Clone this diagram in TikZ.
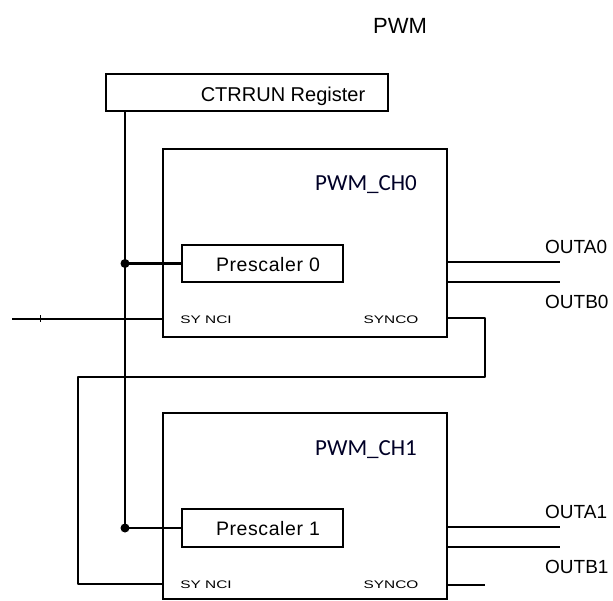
\documentclass[tikz,border=0pt]{standalone}
\usepackage{fontspec}
\setmainfont{Liberation Sans}
\newfontfamily\chfont{Carlito}
\newfontfamily\wideFont[LetterSpace=3]{Liberation Sans}
\begin{document}
\begin{tikzpicture}[x=1pt,y=-1pt,
  wire/.style={line width=2.4pt},
  blk/.style={draw,line width=2.4pt,inner sep=0pt},
  lbl/.style={inner sep=0pt,font=\fontsize{19}{22}\selectfont},
  prelbl/.style={inner sep=0pt,font=\wideFont\fontsize{19.5}{22}\selectfont},
  chlbl/.style={inner sep=0pt,font=\chfont\fontsize{23}{26}\selectfont,text=black!85!blue},
  sig/.style={inner sep=0pt,font=\fontsize{11}{12}\selectfont},
  jdot/.style={circle,fill=black,inner sep=0pt,minimum size=9pt}]
\useasboundingbox (0,0) rectangle (613,601);
% title
\node[inner sep=0pt,font=\fontsize{22}{26}\selectfont] (title) at (400,26) {PWM};
% CTRRUN register
\node[blk,minimum width=282pt,minimum height=37pt] (ctr) at (247,92.5) {};
\node[lbl,font=\fontsize{20}{24}\selectfont] (ctrt) at (283,96) {CTRRUN Register};
% channel boxes
\node[blk,minimum width=284pt,minimum height=188pt] (ch0) at (305,243) {};
\node[blk,minimum width=284pt,minimum height=186pt] (ch1) at (305,506) {};
\node[chlbl] (ch0t) at (366,185) {PWM\_CH0};
\node[chlbl] (ch1t) at (366,450) {PWM\_CH1};
% prescalers
\node[blk,minimum width=161pt,minimum height=37pt] (pre0) at (262.5,263.5) {};
\node[prelbl] (pre0t) at (268,265) {Prescaler 0};
\node[blk,minimum width=161pt,minimum height=38pt] (pre1) at (262.5,528) {};
\node[prelbl] (pre1t) at (268,529) {Prescaler 1};
% sync labels
\node[sig] (si0) at (206,320) {\scalebox{1.4}[1]{SY NCI}};
\node[sig] (so0) at (391,320) {\scalebox{1.4}[1]{SYNCO}};
\node[sig] (si1) at (206,585) {\scalebox{1.4}[1]{SY NCI}};
\node[sig] (so1) at (391,585) {\scalebox{1.4}[1]{SYNCO}};
% output labels
\node[lbl,anchor=west] (oa0) at (545,247) {OUTA0};
\node[lbl,anchor=west] (ob0) at (545,302) {OUTB0};
\node[lbl,anchor=west] (oa1) at (545,512) {OUTA1};
\node[lbl,anchor=west] (ob1) at (545,567) {OUTB1};
% coordinates
\coordinate (ctrb) at (125,111);
\node[jdot] (d0) at (125,263.5) {};
\node[jdot] (d1) at (125,528) {};
\coordinate (ea0) at (560,262);
\coordinate (eb0) at (560,282);
\coordinate (ea1) at (560,527);
\coordinate (eb1) at (560,547);
\coordinate (sin) at (12,319);
\coordinate (so1end) at (485,585);
% wires
\draw[wire] (ctrb) -- (d0.center) -- (d1.center);
\draw[wire] (d0.center) -- (pre0.west);
\draw[wire] (d1.center) -- (pre1.west);
\draw[wire] (sin) -- (sin -| ch0.west);
\draw[line width=1pt] (40,315.5) -- (40,322.5);
\draw[wire] (ch0.east |- 0,262) -- (ea0);
\draw[wire] (ch0.east |- 0,282) -- (eb0);
\draw[wire] (ch1.east |- 0,527) -- (ea1);
\draw[wire] (ch1.east |- 0,547) -- (eb1);
\draw[wire,line join=round] (ch0.east |- 0,318) -- (485,318) -- (485,377) -- (78,377) -- (78,584) -- (ch1.west |- 0,584);
\draw[wire] (ch1.east |- so1end) -- (so1end);
\end{tikzpicture}
\end{document}
